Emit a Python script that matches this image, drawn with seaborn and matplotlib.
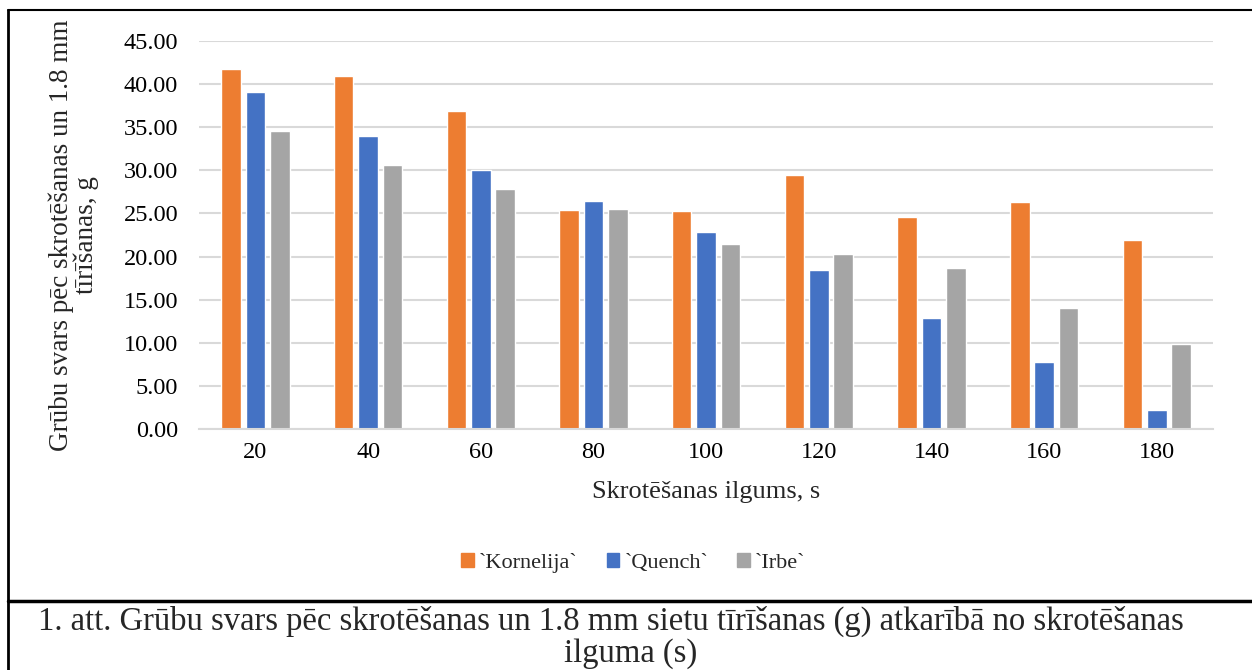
import pandas as pd
import matplotlib.pyplot as plt
import seaborn as sns
from matplotlib.lines import Line2D
from matplotlib.ticker import FormatStrFormatter

# Dati nolasīti no attēla
ilgums = [20, 40, 60, 80, 100, 120, 140, 160, 180]
kornelija = [41.80, 40.90, 36.90, 25.40, 25.30, 29.45, 24.60, 26.35, 21.90]
quench = [39.05, 33.98, 30.00, 26.50, 22.85, 18.42, 12.85, 7.72, 2.15]
irbe = [34.52, 30.60, 27.82, 25.50, 21.40, 20.30, 18.63, 14.03, 9.90]

skirnes = ['`Kornelija`', '`Quench`', '`Irbe`']
krasas = ['#ED7D31', '#4472C4', '#A5A5A5']

df = pd.DataFrame({
    'Ilgums': [str(v) for v in ilgums] * 3,
    'Svars': kornelija + quench + irbe,
    'Šķirne': [s for s in skirnes for _ in ilgums],
})

sns.set_style('white')
plt.rcParams['font.family'] = ['Liberation Serif', 'DejaVu Serif']

fig = plt.figure(figsize=(12.52, 6.70), dpi=100)
ax = fig.add_axes([0.159, 0.3597, 0.81, 0.5791])

sns.barplot(data=df, x='Ilgums', y='Svars', hue='Šķirne', palette=krasas,
            width=0.65, gap=0.2, saturation=1, ax=ax, legend=False)

ax.set_ylim(0, 45)
ax.set_yticks(range(0, 46, 5))
ax.yaxis.set_major_formatter(FormatStrFormatter('%.2f'))
ax.grid(axis='y', color='#D9D9D9', linewidth=1.5)
ax.set_axisbelow(True)
for s in ['top', 'right', 'left']:
    ax.spines[s].set_visible(False)
ax.spines['bottom'].set_color('#D9D9D9')
ax.spines['bottom'].set_linewidth(1.5)
ax.tick_params(axis='both', length=0, labelsize=17.5, colors='black')
ax.tick_params(axis='x', pad=9)
ax.tick_params(axis='y', pad=15)

ax.set_xlabel('Skrotēšanas ilgums, s', fontsize=19, labelpad=13)
ax.set_ylabel('Grūbu svars pēc skrotēšanas un 1.8 mm\ntīrīšanas, g', fontsize=19.5,
              labelpad=18, linespacing=0.95)

rokturi = [plt.Rectangle((0, 0), 1, 1, color=c) for c in krasas]
fig.legend(rokturi, skirnes, loc='center', bbox_to_anchor=(0.506, 0.16),
           ncol=3, frameon=False, fontsize=16, handlelength=0.55, handleheight=0.55,
           handletextpad=0.25, columnspacing=1.3)

# Rāmis un paraksta šūna
fig.add_artist(Line2D([0.0065, 0.0065], [0, 0.985], color='black', lw=2))
fig.add_artist(Line2D([0.0065, 1.0], [0.985, 0.985], color='black', lw=1.5))
fig.add_artist(Line2D([0.0065, 1.0], [0.103, 0.103], color='black', lw=2.5))

fig.text(0.488, 0.072, '1. att. Grūbu svars pēc skrotēšanas un 1.8 mm sietu tīrīšanas (g) atkarībā no skrotēšanas',
         ha='center', va='center', fontsize=23.5)
fig.text(0.504, 0.024, 'ilguma (s)', ha='center', va='center', fontsize=23.5)

fig.savefig('out.png', dpi=100)
